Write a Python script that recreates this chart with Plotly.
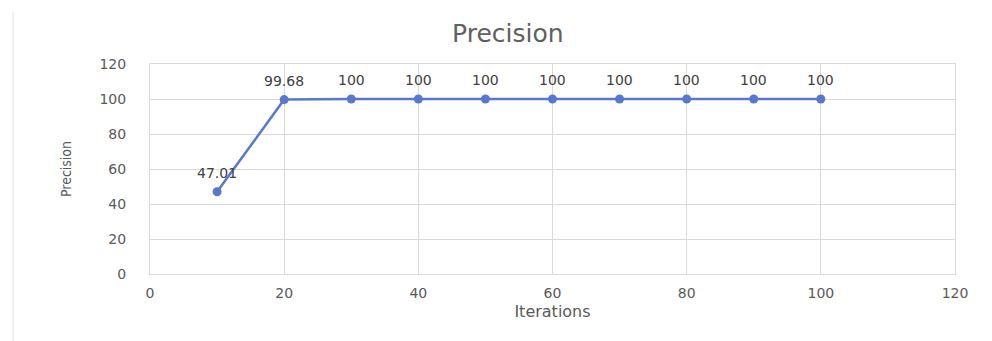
import plotly.graph_objects as go

# Precision measured at each training iteration count
iterations = [10, 20, 30, 40, 50, 60, 70, 80, 90, 100]
precision = [47.01, 99.68, 100, 100, 100, 100, 100, 100, 100, 100]
x_ticks = [0, 20, 40, 60, 80, 100, 120]
y_ticks = [0, 20, 40, 60, 80, 100, 120]

line_color = "#5877d0"
grid_color = "#d9d9d9"
text_color = "#595959"
font_family = "DejaVu Sans, Verdana, sans-serif"

fig = go.Figure()
fig.add_trace(go.Scatter(
    x=iterations,
    y=precision,
    mode="lines+markers",
    line=dict(color=line_color, width=2.5),
    marker=dict(color=line_color, size=9),
    showlegend=False,
))

# value labels sitting just above each point
annotations = [
    dict(x=xv, y=yv, text=f"{yv:g}", showarrow=False,
         xanchor="center", yanchor="middle", yshift=19,
         font=dict(family=font_family, size=14, color="#404040"))
    for xv, yv in zip(iterations, precision)
]

fig.update_layout(
    width=992,
    height=341,
    margin=dict(l=150, r=37, t=64, b=67),
    paper_bgcolor="white",
    plot_bgcolor="white",
    font=dict(family=font_family, color=text_color, size=14),
    title=dict(
        text="Precision",
        x=0.512, xanchor="center",
        y=0.902, yanchor="middle",
        font=dict(family=font_family, size=25, color="#606060"),
    ),
    xaxis=dict(
        range=[0, 120],
        tickvals=x_ticks,
        showgrid=True, gridcolor=grid_color, gridwidth=1,
        showline=True, linecolor=grid_color, linewidth=1, mirror=True,
        zeroline=False,
        ticks="", ticklabelstandoff=6,
        tickfont=dict(size=14, color=text_color),
        title=dict(text="Iterations", standoff=6,
                   font=dict(family=font_family, size=16, color=text_color)),
    ),
    yaxis=dict(
        range=[0, 120],
        tickvals=y_ticks,
        showgrid=True, gridcolor=grid_color, gridwidth=1,
        showline=True, linecolor=grid_color, linewidth=1, mirror=True,
        zeroline=False,
        ticks="", ticklabelstandoff=20,
        tickfont=dict(size=14, color=text_color),
        title=dict(text="Precision", standoff=24,
                   font=dict(family="DejaVu Sans Condensed, Liberation Sans Narrow, sans-serif",
                             size=14, color=text_color)),
    ),
    annotations=annotations,
    shapes=[dict(
        type="line", xref="paper", yref="paper",
        x0=-0.170, x1=-0.170, y0=-0.32, y1=1.25,
        line=dict(color="#e3e3e3", width=1),
    )],
)

fig.write_html("out.html")
